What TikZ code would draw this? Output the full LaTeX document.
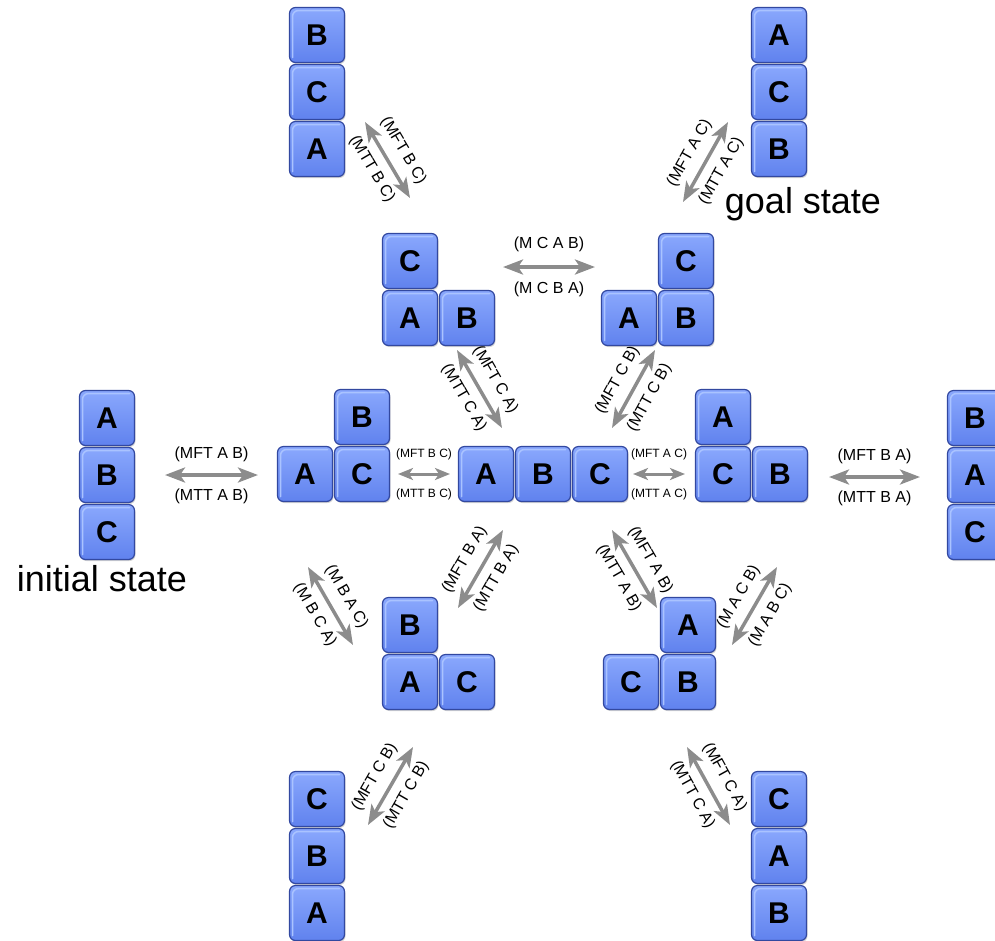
\documentclass[tikz,border=0pt]{standalone}
\usepackage{fontspec}
\setmainfont{Liberation Sans}
\usetikzlibrary{arrows.meta,shadows}
\definecolor{blktop}{RGB}{138,168,253}
\definecolor{blkbot}{RGB}{96,130,238}
\definecolor{blkedge}{RGB}{50,72,160}
\definecolor{blkhi}{RGB}{170,195,255}
\definecolor{arrgray}{RGB}{140,140,140}
\begin{document}
\begin{tikzpicture}[x=1pt,y=-1pt,
  blk/.style={draw=blkedge, line width=1.2pt, top color=blktop, bottom color=blkbot,
    rounded corners=6pt, minimum width=55pt, minimum height=55pt, inner sep=0pt,
    font=\fontsize{30}{30}\selectfont\bfseries,
    drop shadow={opacity=0.35,shadow xshift=1pt,shadow yshift=-1.5pt},
    path picture={
      \draw[blkhi, line width=1.5pt, line cap=round]
        ([xshift=3pt,yshift=5pt]path picture bounding box.south west) --
        ([xshift=3pt,yshift=-3pt]path picture bounding box.north west) --
        ([xshift=-5pt,yshift=-3pt]path picture bounding box.north east);
    }},
  mv/.style={draw=arrgray, line width=3.5pt,
    {Stealth[length=20pt,width=15pt,inset=5pt]}-{Stealth[length=20pt,width=15pt,inset=5pt]}},
  mvs/.style={draw=arrgray, line width=3pt,
    {Stealth[length=15pt,width=12pt,inset=4pt]}-{Stealth[length=15pt,width=12pt,inset=4pt]}},
  lbl/.style={font=\fontsize{16}{16}\selectfont, inner sep=1pt, text=black},
  dlbl/.style={font=\fontsize{16}{16}\selectfont, inner sep=1pt, text=black},
  slbl/.style={font=\fontsize{12}{12}\selectfont, inner sep=1pt, text=black},
  big/.style={font=\fontsize{36}{36}\selectfont, inner sep=0pt}
]
\clip (0,0) rectangle (995,940);
\useasboundingbox (0,0) rectangle (995,940);

% stack 1
\node[blk] (s1b) at (317,35) {B};
\node[blk] (s1c) at (317,92) {C};
\node[blk] (s1a) at (317,149) {A};
% goal stack
\node[blk] (s2a) at (779,35) {A};
\node[blk] (s2c) at (779,92) {C};
\node[blk] (s2b) at (779,149) {B};
% C on A, B
\node[blk] (s3c) at (410,261) {C};
\node[blk] (s3a) at (410,318) {A};
\node[blk] (s3b) at (467,318) {B};
% A, C on B
\node[blk] (s4c) at (686,261) {C};
\node[blk] (s4a) at (629,318) {A};
\node[blk] (s4b) at (686,318) {B};
% initial
\node[blk] (s5a) at (107,418) {A};
\node[blk] (s5b) at (107,475) {B};
\node[blk] (s5c) at (107,532) {C};
% A, B on C
\node[blk] (s6b) at (362,417) {B};
\node[blk] (s6a) at (305,474) {A};
\node[blk] (s6c) at (362,474) {C};
% table
\node[blk] (s7a) at (486,474) {A};
\node[blk] (s7b) at (543,474) {B};
\node[blk] (s7c) at (600,474) {C};
% A on C, B
\node[blk] (s8a) at (723,417) {A};
\node[blk] (s8c) at (723,474) {C};
\node[blk] (s8b) at (780,474) {B};
% right stack
\node[blk] (s9b) at (975,418) {B};
\node[blk] (s9a) at (975,475) {A};
\node[blk] (s9c) at (975,532) {C};
% B on A, C
\node[blk] (s10b) at (410,625) {B};
\node[blk] (s10a) at (410,682) {A};
\node[blk] (s10c) at (467,682) {C};
% C, A on B
\node[blk] (s11a) at (688,625) {A};
\node[blk] (s11c) at (631,682) {C};
\node[blk] (s11b) at (688,682) {B};
% bottom-left stack
\node[blk] (s12c) at (317,799) {C};
\node[blk] (s12b) at (317,856) {B};
\node[blk] (s12a) at (317,913) {A};
% bottom-right stack
\node[blk] (s13c) at (779,799) {C};
\node[blk] (s13a) at (779,856) {A};
\node[blk] (s13b) at (779,913) {B};

\node[big, anchor=base] (init) at (102,591) {initial state};
\node[big, anchor=base] (goal) at (803,213) {goal state};

% arrow end points
\coordinate (t1a) at (365,122); \coordinate (t1b) at (410,198);
\coordinate (t2a) at (683,202); \coordinate (t2b) at (728,122);
\coordinate (hca) at (503,267); \coordinate (hcb) at (595,267);
\coordinate (d1a) at (457,350); \coordinate (d1b) at (502,428);
\coordinate (d2a) at (612,428); \coordinate (d2b) at (655,350);
\coordinate (hab1) at (165,475); \coordinate (hab2) at (258,475);
\coordinate (hbc1) at (398,474); \coordinate (hbc2) at (450,474);
\coordinate (hac1) at (633,474); \coordinate (hac2) at (685,474);
\coordinate (hba1) at (829,477); \coordinate (hba2) at (920,477);
\coordinate (l1a) at (308,567); \coordinate (l1b) at (353,645);
\coordinate (l2a) at (458,608); \coordinate (l2b) at (503,530);
\coordinate (l3a) at (612,530); \coordinate (l3b) at (657,608);
\coordinate (l4a) at (732,645); \coordinate (l4b) at (777,567);
\coordinate (b1a) at (368,825); \coordinate (b1b) at (413,747);
\coordinate (b2a) at (687,747); \coordinate (b2b) at (730,825);

\draw[mv] (t1a) -- (t1b) node[midway,sloped,above=8pt,dlbl]{(MFT B C)} node[midway,sloped,below=8pt,dlbl]{(MTT B C)};
\draw[mv] (t2a) -- (t2b) node[midway,sloped,above=8pt,dlbl]{(MFT A C)} node[midway,sloped,below=8pt,dlbl]{(MTT A C)};
\draw[mv] (hca) -- (hcb) node[midway,above=12pt,lbl]{(M C A B)} node[midway,below=12pt,lbl]{(M C B A)};
\draw[mv] (d1a) -- (d1b) node[midway,sloped,above=8pt,dlbl]{(MFT C A)} node[midway,sloped,below=8pt,dlbl]{(MTT C A)};
\draw[mv] (d2a) -- (d2b) node[midway,sloped,above=8pt,dlbl]{(MFT C B)} node[midway,sloped,below=8pt,dlbl]{(MTT C B)};
\draw[mv] (hab1) -- (hab2) node[midway,above=10pt,lbl]{(MFT A B)} node[midway,below=11pt,lbl]{(MTT A B)};
\draw[mvs] (hbc1) -- (hbc2) node[midway,above=12pt,slbl]{(MFT B C)} node[midway,below=12pt,slbl]{(MTT B C)};
\draw[mvs] (hac1) -- (hac2) node[midway,above=12pt,slbl]{(MFT A C)} node[midway,below=12pt,slbl]{(MTT A C)};
\draw[mv] (hba1) -- (hba2) node[midway,above=10pt,lbl]{(MFT B A)} node[midway,below=11pt,lbl]{(MTT B A)};
\draw[mv] (l1a) -- (l1b) node[midway,sloped,above=8pt,dlbl]{(M B A C)} node[midway,sloped,below=8pt,dlbl]{(M B C A)};
\draw[mv] (l2a) -- (l2b) node[midway,sloped,above=8pt,dlbl]{(MFT B A)} node[midway,sloped,below=8pt,dlbl]{(MTT B A)};
\draw[mv] (l3a) -- (l3b) node[midway,sloped,above=8pt,dlbl]{(MFT A B)} node[midway,sloped,below=8pt,dlbl]{(MTT A B)};
\draw[mv] (l4a) -- (l4b) node[midway,sloped,above=8pt,dlbl]{(M A C B)} node[midway,sloped,below=8pt,dlbl]{(M A B C)};
\draw[mv] (b1a) -- (b1b) node[midway,sloped,above=8pt,dlbl]{(MFT C B)} node[midway,sloped,below=8pt,dlbl]{(MTT C B)};
\draw[mv] (b2a) -- (b2b) node[midway,sloped,above=8pt,dlbl]{(MFT C A)} node[midway,sloped,below=8pt,dlbl]{(MTT C A)};
\end{tikzpicture}
\end{document}
